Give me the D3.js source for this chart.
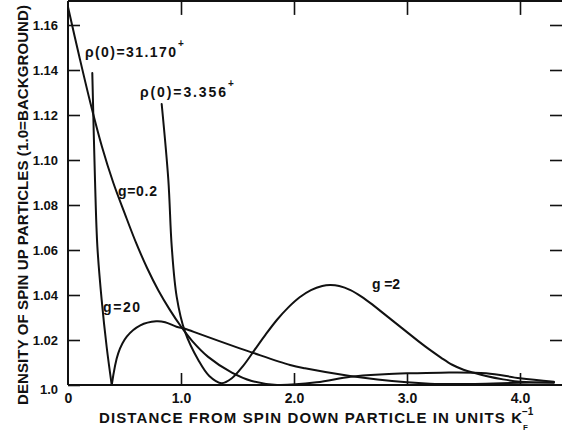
<!DOCTYPE html>
<html>
<head>
<meta charset="utf-8">
<script src="https://cdn.jsdelivr.net/npm/d3@7"></script>
<style>
  html, body { margin: 0; padding: 0; background: #fff; }
  svg { display: block; }
  text { font-family: "Liberation Sans", Arial, sans-serif; fill: #111; }
</style>
</head>
<body>
<svg id="chart" width="562" height="433"></svg>
<script>
// ---- tick values and labels ----
const xTicks = [0, 1, 2, 3, 4];
const xTickLabels = ["0", "1.0", "2.0", "3.0", "4.0"];
const yTicks = [1.0, 1.02, 1.04, 1.06, 1.08, 1.10, 1.12, 1.14, 1.16];
const yTickLabels = ["1.0", "1.02", "1.04", "1.06", "1.08", "1.10", "1.12", "1.14", "1.16"];

// ---- series: g = 0.2 ----
const g02X = [0, 0.1, 0.2, 0.3, 0.4, 0.5, 0.6, 0.7, 0.8, 0.9, 1.0, 1.1, 1.24, 1.45, 1.626, 1.85, 2.2, 2.5, 2.8, 3.0, 3.3, 3.7, 4.0, 4.3];
const g02Y = [1.168, 1.146, 1.125, 1.106, 1.090, 1.0765, 1.0635, 1.052, 1.042, 1.0335, 1.026, 1.0195, 1.0125, 1.0055, 1.0018, 1.0, 1.0012, 1.0037, 1.0048, 1.0052, 1.0055, 1.0052, 1.003, 1.0015];

// ---- series: g = 2  (rho(0) = 3.356) ----
const g2X = [0.829, 0.888, 0.918, 0.962, 1.035, 1.153, 1.25, 1.36, 1.45, 1.55, 1.65, 1.75, 1.85, 1.95, 2.05, 2.15, 2.25, 2.32, 2.4, 2.5, 2.6, 2.7, 2.8, 2.9, 3.0, 3.1, 3.2, 3.3, 3.4, 3.5, 3.6, 3.7, 3.85, 4.0, 4.3];
const g2Y = [1.1249, 1.0911, 1.0615, 1.0392, 1.0237, 1.0111, 1.004, 1.0008, 1.003, 1.0085, 1.0155, 1.0225, 1.029, 1.0345, 1.039, 1.0422, 1.044, 1.0444, 1.044, 1.0422, 1.0392, 1.0355, 1.0315, 1.0275, 1.0235, 1.0195, 1.0157, 1.0122, 1.009, 1.0068, 1.0053, 1.004, 1.0025, 1.0015, 1.001];

// ---- series: g = 20  (rho(0) = 31.170) ----
const g20X = [0.215, 0.239, 0.26, 0.298, 0.342, 0.387, 0.445, 0.52, 0.64, 0.78, 0.86, 0.96, 1.035, 1.168, 1.52, 1.626, 1.965, 2.097, 2.496, 3.0, 3.2, 3.6, 4.0, 4.3];
const g20Y = [1.1387, 1.091, 1.0615, 1.0378, 1.017, 1.0, 1.0142, 1.0215, 1.0265, 1.0283, 1.0279, 1.0259, 1.025, 1.0226, 1.0163, 1.0145, 1.0089, 1.0074, 1.004, 1.0012, 1.0006, 1.0005, 1.001, 1.0012];

// ---- layout ----
const svg = d3.select("#chart");
const x = d3.scaleLinear().domain([0, 4]).range([68, 520]);
const y = d3.scaleLinear().domain([1.0, 1.16]).range([385, 25]);
const xEnd = 562;           // right edge of frame (pixel)
const yTop = y(1.1707);     // top edge of frame

const ink = "#111";

// frame lines
const frame = svg.append("g").attr("stroke", ink).attr("stroke-width", 2).attr("fill", "none");
frame.append("line").attr("x1", x(0)).attr("x2", x(0)).attr("y1", yTop).attr("y2", y(1.0));
frame.append("line").attr("x1", x(0)).attr("x2", xEnd).attr("y1", y(1.0)).attr("y2", y(1.0));
frame.append("line").attr("x1", x(0)).attr("x2", xEnd).attr("y1", yTop).attr("y2", yTop);

function styleAxis(g) {
  g.select(".domain").remove();
  g.selectAll(".tick line").attr("stroke", ink).attr("stroke-width", 1.6);
  g.selectAll(".tick text").attr("fill", ink).attr("font-weight", "bold")
    .attr("font-family", "'Liberation Sans', Arial, sans-serif");
}

// left axis (ticks inward)
const gl = svg.append("g").attr("transform", `translate(${x(0)},0)`)
  .call(d3.axisLeft(y).tickValues(yTicks).tickSize(-12).tickPadding(10)
    .tickFormat((d, i) => yTickLabels[i]));
styleAxis(gl);
gl.selectAll(".tick text").attr("font-size", 13);
gl.selectAll(".tick").filter(d => d === 1.0).select("text").attr("dy", "0.62em");

// right axis ticks (inward, no labels)
const gr = svg.append("g").attr("transform", `translate(${xEnd},0)`)
  .call(d3.axisRight(y).tickValues(yTicks.slice(1)).tickSize(-12).tickFormat(""));
styleAxis(gr);

// bottom axis (ticks inward)
const gb = svg.append("g").attr("transform", `translate(0,${y(1.0)})`)
  .call(d3.axisBottom(x).tickValues(xTicks).tickSize(-12).tickPadding(8)
    .tickFormat((d, i) => xTickLabels[i]));
styleAxis(gb);
gb.selectAll(".tick text").attr("font-size", 14);
gb.selectAll(".tick").filter(d => d === 0).select("line").remove();

// top axis ticks (inward, no labels)
const gt = svg.append("g").attr("transform", `translate(0,${yTop})`)
  .call(d3.axisTop(x).tickValues(xTicks.slice(1)).tickSize(-14).tickFormat(""));
styleAxis(gt);

// ---- curves ----
const line = d3.line().x(d => x(d[0])).y(d => y(d[1])).curve(d3.curveCatmullRom.alpha(0.5));
const curves = svg.append("g").attr("fill", "none").attr("stroke", ink).attr("stroke-width", 2)
  .attr("stroke-linejoin", "round").attr("stroke-linecap", "round");

curves.append("path").attr("d", line(d3.zip(g02X, g02Y)));
curves.append("path").attr("d", line(d3.zip(g2X, g2Y)));
// g=20 has a cusp at its minimum: draw the two branches separately
const g20pts = d3.zip(g20X, g20Y);
const iMin = d3.minIndex(g20Y);
curves.append("path").attr("d", line(g20pts.slice(0, iMin + 1)));
curves.append("path").attr("d", line(g20pts.slice(iMin)));

// ---- annotations ----
function label(tx, ty, str, len, size) {
  svg.append("text").attr("x", x(tx)).attr("y", y(ty)).attr("font-size", size)
    .attr("font-weight", "bold").attr("textLength", len).attr("lengthAdjust", "spacing").text(str);
}
function sup(tx, ty, str) {
  svg.append("text").attr("x", x(tx)).attr("y", y(ty)).attr("font-size", 10)
    .attr("font-weight", "bold").text(str);
}
label(0.15, 1.1458, "ρ(0)=31.170", 91, 14);
sup(0.974, 1.1503, "+");
label(0.637, 1.128, "ρ(0)=3.356", 86, 14);
sup(1.416, 1.1325, "+");
label(0.442, 1.084, "g=0.2", 39, 14);
label(0.31, 1.0324, "g=20", 37, 14);
label(2.69, 1.0427, "g =2", 28, 14);

// ---- axis titles ----
svg.append("text").attr("x", 99).attr("y", 423).attr("font-size", 15).attr("font-weight", "bold")
  .attr("textLength", 423).attr("lengthAdjust", "spacing")
  .text("DISTANCE FROM SPIN DOWN PARTICLE IN UNITS K");
svg.append("text").attr("x", 523).attr("y", 430).attr("font-size", 8).attr("font-weight", "bold").text("F");
svg.append("text").attr("x", 522).attr("y", 415).attr("font-size", 10).attr("font-weight", "bold").text("−1");

svg.append("text").attr("transform", "translate(28,205) rotate(-90)")
  .attr("text-anchor", "middle").attr("font-size", 15).attr("font-weight", "bold")
  .attr("textLength", 400).attr("lengthAdjust", "spacing")
  .text("DENSITY OF SPIN UP PARTICLES (1.0=BACKGROUND)");
</script>
</body>
</html>
